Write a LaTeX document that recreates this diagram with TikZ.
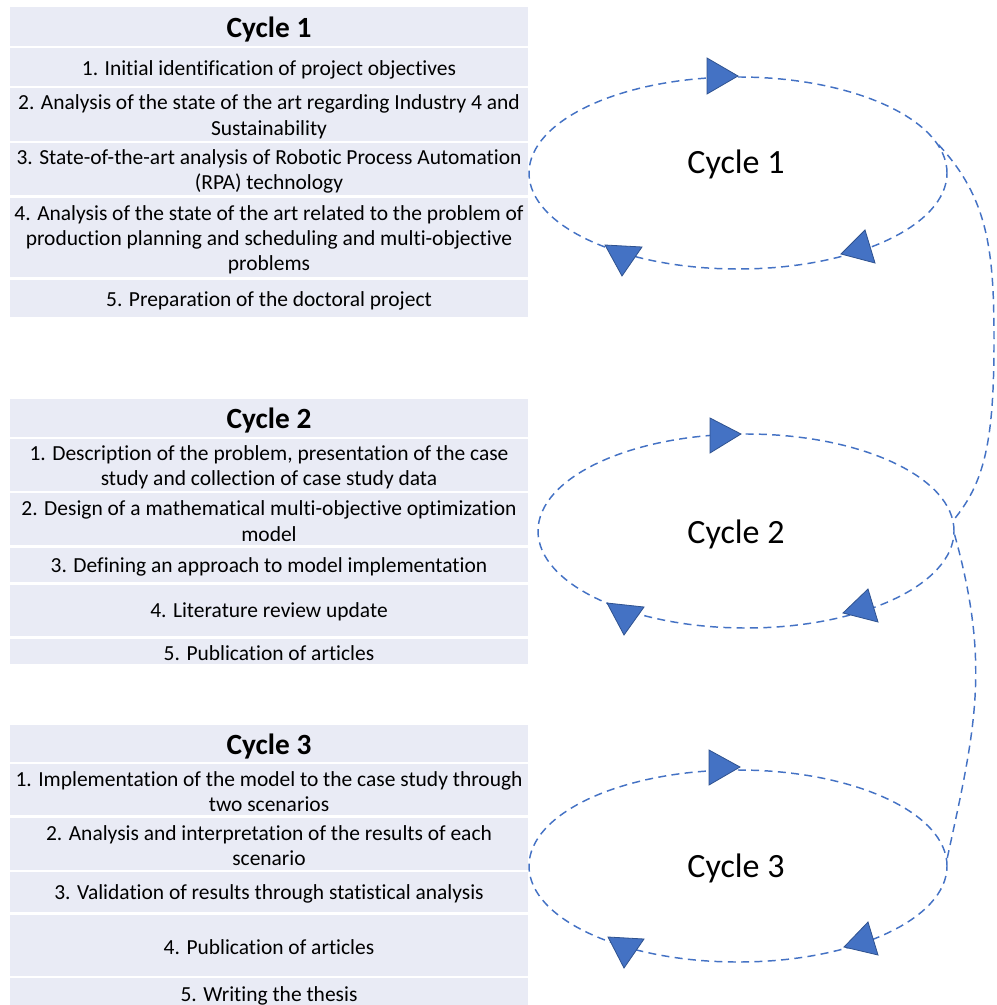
\documentclass[tikz,border=0pt]{standalone}
\usepackage{fontspec}
\setmainfont{Carlito}[Ligatures=NoCommon]
\usetikzlibrary{shapes.geometric}
\definecolor{cellbg}{HTML}{E9EBF5}
\definecolor{loopblue}{HTML}{4472C4}
\definecolor{tipedge}{HTML}{2F528F}
% one table row: name, top, bottom, text style, text
\newcommand\tablecell[5]{%
  \fill[cellbox] (10,#2) rectangle (528,#3);
  \node[#4] (#1) at (269,{(#2+#3)/2}) {#5};}
\begin{document}
\begin{tikzpicture}[x=0.75pt,y=-0.75pt,
  cellbox/.style={fill=cellbg},
  celltext/.style={inner sep=0pt, align=center, yshift=-1.5pt,
    font=\fontsize{16.1}{19}\selectfont},
  headtext/.style={inner sep=0pt, yshift=-2.2pt, font=\bfseries\fontsize{22}{26}\selectfont},
  loop/.style={draw=loopblue, line width=1.1pt, dash pattern=on 6pt off 4pt,
    ellipse, inner sep=0pt, minimum width=313.5pt, minimum height=144pt},
  link/.style={draw=loopblue, line width=1.1pt, dash pattern=on 6pt off 4pt},
  tip/.style={fill=loopblue, draw=tipedge, line width=0.6pt, line join=miter},
  looplabel/.style={inner sep=0pt, anchor=base, font=\fontsize{25.5}{30}\selectfont}]
\useasboundingbox (0,0) rectangle (996,1005);

% ---- Cycle 1 table
\tablecell{h1}{7.5}{46}{headtext}{Cycle 1}
\tablecell{a1}{48.5}{86.5}{celltext}{1. Initial identification of project objectives}
\tablecell{a2}{88.5}{141}{celltext}{2. Analysis of the state of the art regarding Industry 4 and\\Sustainability}
\tablecell{a3}{143}{195.5}{celltext}{3. State-of-the-art analysis of Robotic Process Automation\\(RPA) technology}
\tablecell{a4}{198}{277.5}{celltext}{4. Analysis of the state of the art related to the problem of\\production planning and scheduling and multi-objective\\problems}
\tablecell{a5}{280}{317}{celltext}{5. Preparation of the doctoral project}

% ---- Cycle 2 table
\tablecell{h2}{399}{437}{headtext}{Cycle 2}
\tablecell{b1}{439}{491}{celltext}{1. Description of the problem, presentation of the case\\study and collection of case study data}
\tablecell{b2}{493}{545}{celltext}{2. Design of a mathematical multi-objective optimization\\model}
\tablecell{b3}{547.5}{582}{celltext}{3. Defining an approach to model implementation}
\tablecell{b4}{584.5}{636}{celltext}{4. Literature review update}
\tablecell{b5}{638.5}{664}{celltext}{5. Publication of articles}

% ---- Cycle 3 table
\tablecell{h3}{725}{762}{headtext}{Cycle 3}
\tablecell{c1}{764}{815}{celltext}{1. Implementation of the model to the case study through\\two scenarios}
\tablecell{c2}{817.5}{870}{celltext}{2. Analysis and interpretation of the results of each\\scenario}
\tablecell{c3}{872}{912}{celltext}{3. Validation of results through statistical analysis}
\tablecell{c4}{914.5}{976}{celltext}{4. Publication of articles}
\fill[cellbox] (10,978) rectangle (528,1005);
\node[celltext] (c5) at (269,994) {5. Writing the thesis};

% ---- loops
\node[loop] (e1) at (738,173) {};
\node[loop, minimum width=312pt, minimum height=145.5pt] (e2) at (746,531) {};
\node[loop] (e3) at (738,866) {};
\node[looplabel] (l1) at (736,174) {Cycle 1};
\node[looplabel] (l2) at (736,543) {Cycle 2};
\node[looplabel] (l3) at (736,877) {Cycle 3};

% ---- links between the loops
\draw[link] (e1.8) .. controls (988,198) and (994,250) .. (994,340)
  .. controls (994,440) and (985,482) .. (e2.3);
\draw[link] (e2.-1) .. controls (991,666) and (975,730) .. (e3.2);

% ---- direction markers on the loops
\filldraw[tip] (707,58) -- (707,94) -- (738,76) -- cycle;
\filldraw[tip] (605,245) -- (642,247) -- (622,276) -- cycle;
\filldraw[tip] (865,230) -- (875,263) -- (841,254) -- cycle;

\filldraw[tip] (710,418) -- (710,453) -- (741,434) -- cycle;
\filldraw[tip] (607,603) -- (644,607) -- (624,635) -- cycle;
\filldraw[tip] (868,589) -- (878,622) -- (843,613) -- cycle;

\filldraw[tip] (709,750) -- (709,785) -- (740,767) -- cycle;
\filldraw[tip] (608,937) -- (644,939) -- (624,968) -- cycle;
\filldraw[tip] (868,922) -- (878,955) -- (844,947) -- cycle;
\end{tikzpicture}
\end{document}
